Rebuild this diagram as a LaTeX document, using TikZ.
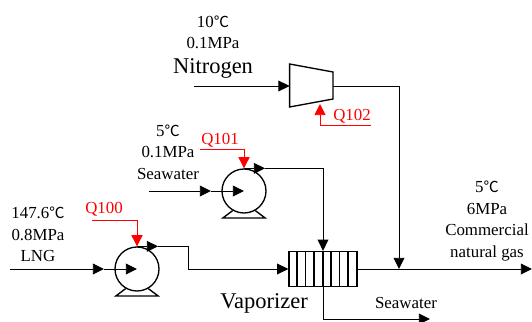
\documentclass[tikz,border=0pt]{standalone}
\usepackage{fontspec}
\setmainfont{Liberation Serif}
\newfontfamily\cjk{Noto Sans CJK SC}
\usepackage{tikz}
\usetikzlibrary{calc}
\usetikzlibrary{arrows.meta,positioning}
\usepackage{xcolor}
\definecolor{heatRed}{RGB}{255, 0, 0}
\newcommand{\degC}{{\cjk\fontsize{10.8}{10}\selectfont ℃}}
\tikzset{
    flow/.style={line width=0.65pt, -{Triangle[length=0.28cm,width=0.27cm]}},
    pipe/.style={line width=0.65pt},
    heat/.style={line width=0.65pt, color=heatRed, -{Triangle[length=0.28cm,width=0.28cm]}},
    pumpbody/.style={circle, draw, line width=0.95pt, minimum size=1.1cm, inner sep=0pt},
    label/.style={align=center, inner sep=0pt, font=\fontsize{12}{15.3}\selectfont},
    biglabel/.style={inner sep=0pt, font=\fontsize{16}{18}\selectfont},
    heatlabel/.style={inner sep=0pt, text=heatRed, font=\fontsize{12}{15}\selectfont}
}

\begin{document}
\begin{tikzpicture}
        \useasboundingbox (0, 0) rectangle (13.3, 8.05);

        % pumps
        \node[pumpbody] (pumpLNG) at (3.425, 1.325) {};
        \node[pumpbody] (pumpSea) at (6.1, 3.275) {};
        \foreach \p in {pumpLNG, pumpSea} {
            \draw[line width=0.95pt] (\p.240) -- ($(\p)+(-0.53, -0.675)$) -- ($(\p)+(0.53, -0.675)$) -- (\p.300);
        }

        % compressor
        \coordinate (compA) at (7.24, 6.45);
        \coordinate (compB) at (8.325, 6.25);
        \coordinate (compC) at (8.325, 5.575);
        \coordinate (compD) at (7.24, 5.375);
        \draw[line width=0.95pt] (compA) -- (compB) -- (compC) -- (compD) -- cycle;
        \coordinate (compIn) at (7.24, 5.9);
        \coordinate (compOut) at (8.325, 5.9);
        \coordinate (compHeat) at (8, 5.45);

        % vaporizer
        \node[draw, line width=0.95pt, minimum width=1.7cm, minimum height=0.875cm, inner sep=0pt] (vaporizer) at (8.075, 1.325) {};
        \foreach \i in {1,...,7} {
            \draw[line width=0.95pt] ($(vaporizer.north west)+(\i*0.2125, 0)$) -- ($(vaporizer.south west)+(\i*0.2125, 0)$);
        }

        % LNG line
        \coordinate (lngIn) at (0.25, 1.325);
        \coordinate (lngMid) at (2.6, 1.325);
        \coordinate (lngTip) at ($(pumpLNG.north)+(0.525, 0)$);
        \coordinate (lngBendA) at (4.7, 0 |- lngTip);
        \coordinate (lngBendB) at (4.7, 1.325);
        \draw[flow] (lngIn) -- (lngMid);
        \draw[flow] (lngMid) -- (pumpLNG.center);
        \draw[flow] (pumpLNG.north) -- (lngTip);
        \draw[pipe] (lngTip) -- (lngBendA) -- (lngBendB);
        \draw[flow] (lngBendB) -- (vaporizer.west);

        % seawater line
        \coordinate (seaIn) at (3.725, 3.275);
        \coordinate (seaMid) at (5.275, 3.275);
        \coordinate (seaTip) at ($(pumpSea.north)+(0.525, 0)$);
        \coordinate (seaBend) at (vaporizer.north |- seaTip);
        \coordinate (seaTurn) at (8.075, 0.075);
        \coordinate (seaEnd) at (10.75, 0.075);
        \draw[flow] (seaIn) -- (seaMid);
        \draw[flow] (seaMid) -- (pumpSea.center);
        \draw[flow] (pumpSea.north) -- (seaTip);
        \draw[pipe] (seaTip) -- (seaBend);
        \draw[flow] (seaBend) -- (vaporizer.north);
        \draw[pipe] (vaporizer.north) -- (seaTurn);
        \draw[flow] (seaTurn) -- (seaEnd);

        % nitrogen line
        \coordinate (nitroIn) at (4.85, 5.9);
        \coordinate (nitroBend) at (9.975, 5.9);
        \coordinate (nitroJoin) at (nitroBend |- vaporizer.east);
        \coordinate (gasOut) at (13.3, 1.325);
        \draw[flow] (nitroIn) -- (compIn);
        \draw[pipe] (compOut) -- (nitroBend);
        \draw[flow] (nitroBend) -- (nitroJoin);
        \draw[flow] (vaporizer.east) -- (gasOut);

        % work streams
        \coordinate (q100Start) at (2.3, 2.55);
        \coordinate (q100Bend) at (pumpLNG.north |- q100Start);
        \draw[heat] (q100Start) -- (q100Bend) -- (pumpLNG.north);
        \coordinate (q101Start) at (5, 4.325);
        \coordinate (q101Bend) at (pumpSea.north |- q101Start);
        \draw[heat] (q101Start) -- (q101Bend) -- (pumpSea.north);
        \coordinate (q102Start) at (9.275, 4.925);
        \coordinate (q102Bend) at (8, 4.925);
        \draw[heat] (q102Start) -- (q102Bend) -- (compHeat);

        % texts
        \node[label] (lngText) at (0.95, 2.19) {147.6\degC\\0.8MPa\\LNG};
        \node[label] (seaText) at (4.2, 4.25) {5\degC\\0.1MPa\\Seawater};
        \node[label] (nitroText) at (5.325, 7.67) [anchor=north] {10\degC\\0.1MPa};
        \node[biglabel] (nitroName) at (5.325, 6.33) {Nitrogen};
        \node[label] (gasText) at (12.175, 2.525) {5\degC\\6MPa\\Commercial\\natural gas};
        \node[biglabel] (vaporName) at (6.6, 0.47) {Vaporizer};
        \node[label] (seaOutText) at (10.15, 0.475) {Seawater};
        \node[heatlabel] (q100Text) at (2.6, 2.83) {Q100};
        \node[heatlabel] (q101Text) at (5.5, 4.55) {Q101};
        \node[heatlabel] (q102Text) at (8.8, 5.15) {Q102};
\end{tikzpicture}
\end{document}
